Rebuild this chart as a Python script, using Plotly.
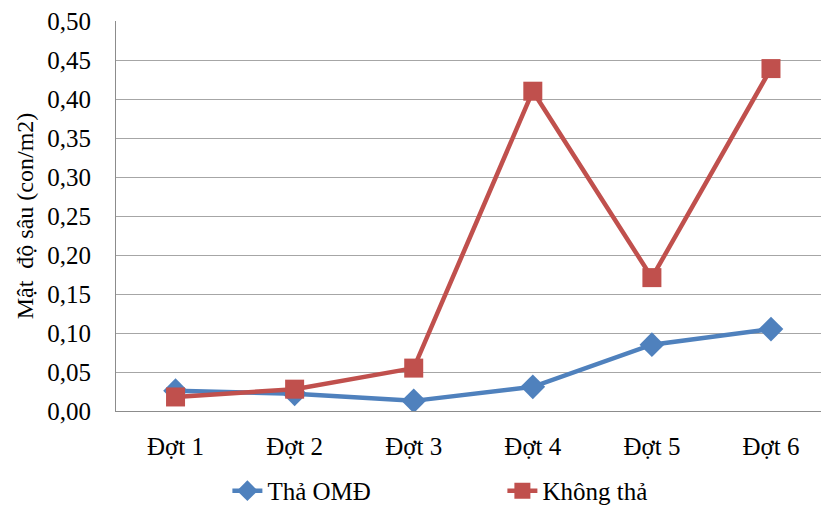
import plotly.graph_objects as go

# Sampling rounds and mean larval density (con/m2)
categories = ["Đợt 1", "Đợt 2", "Đợt 3", "Đợt 4", "Đợt 5", "Đợt 6"]
tha_omd = [0.026, 0.022, 0.013, 0.031, 0.085, 0.105]
khong_tha = [0.018, 0.028, 0.055, 0.410, 0.171, 0.439]
y_ticks = [0.0, 0.05, 0.10, 0.15, 0.20, 0.25, 0.30, 0.35, 0.40, 0.45, 0.50]
y_labels = [f"{v:.2f}".replace(".", ",") for v in y_ticks]

FONT = "'Liberation Serif', 'Times New Roman', serif"
BLUE = "#4F81BD"
RED = "#C0504D"

fig = go.Figure()
fig.add_trace(go.Scatter(
    x=categories, y=tha_omd, name="Thả OMĐ", mode="lines+markers",
    line=dict(color=BLUE, width=4.5),
    marker=dict(symbol="diamond", size=19, color=BLUE),
))
fig.add_trace(go.Scatter(
    x=categories, y=khong_tha, name="Không thả", mode="lines+markers",
    line=dict(color=RED, width=4.5),
    marker=dict(symbol="square", size=19, color=RED),
))

fig.update_layout(
    width=821, height=509,
    margin=dict(l=116, r=0, t=21, b=98, autoexpand=False),
    paper_bgcolor="white", plot_bgcolor="white",
    font=dict(family=FONT, size=25, color="black"),
    showlegend=True,
    legend=dict(
        orientation="h", x=0.158, xanchor="left", y=-0.205, yanchor="middle",
        font=dict(family=FONT, size=25), entrywidth=230,
        itemwidth=30, traceorder="normal",
    ),
    xaxis=dict(
        type="category", range=[-0.5, 5.42], automargin=False,
        showline=True, linecolor="#8C8C8C", linewidth=1,
        showgrid=False, ticks="", ticklabelstandoff=13,
        tickfont=dict(family=FONT, size=25),
    ),
    yaxis=dict(
        range=[0, 0.5], tickvals=y_ticks, ticktext=y_labels, automargin=False,
        showline=True, linecolor="#8C8C8C", linewidth=1,
        showgrid=True, gridcolor="#A6A6A6", gridwidth=1,
        ticks="", ticklabelstandoff=19,
        tickfont=dict(family=FONT, size=25),
        title=dict(text="Mật  độ sâu (con/m2)", font=dict(family=FONT, size=24), standoff=6),
        zeroline=False,
    ),
)

fig.write_html("out.html")
